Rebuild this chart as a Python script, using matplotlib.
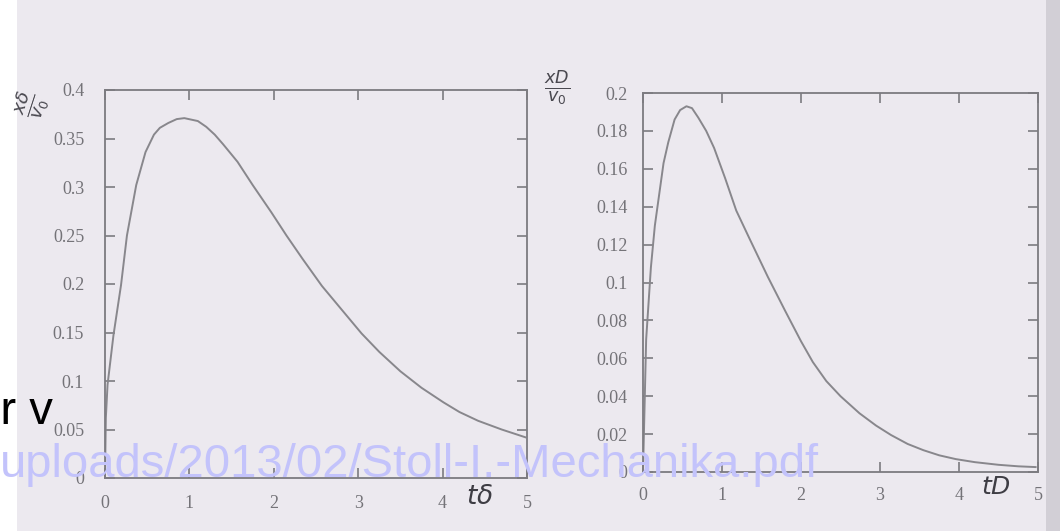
import matplotlib
matplotlib.use("Agg")
import matplotlib.pyplot as plt
from matplotlib.patches import Rectangle

# ---- data ----
left_t = [0, 0.01, 0.03, 0.1, 0.19, 0.26, 0.37, 0.48, 0.58, 0.65, 0.75, 0.85, 0.94,
          1.1, 1.2, 1.3, 1.4, 1.57, 1.75, 1.97, 2.15, 2.34, 2.57, 2.8, 3.04, 3.25,
          3.5, 3.75, 4.01, 4.2, 4.42, 4.7, 4.98]
left_x = [0, 0.062, 0.096, 0.147, 0.199, 0.25, 0.302, 0.336, 0.354, 0.361, 0.366, 0.370,
          0.371, 0.368, 0.362, 0.354, 0.344, 0.326, 0.302, 0.274, 0.25, 0.226, 0.198,
          0.174, 0.149, 0.13, 0.11, 0.093, 0.078, 0.068, 0.059, 0.05, 0.042]

right_t = [0, 0.04, 0.1, 0.15, 0.2, 0.26, 0.32, 0.40, 0.47, 0.55, 0.62, 0.7, 0.8,
           0.9, 1.04, 1.18, 1.35, 1.58, 1.8, 2.0, 2.15, 2.32, 2.5, 2.74, 2.95, 3.14,
           3.35, 3.55, 3.75, 3.96, 4.2, 4.5, 4.75, 4.97]
right_x = [0, 0.07, 0.108, 0.13, 0.145, 0.163, 0.174, 0.186, 0.191, 0.193, 0.192,
           0.187, 0.18, 0.171, 0.155, 0.138, 0.123, 0.103, 0.085, 0.069, 0.058,
           0.048, 0.040, 0.031, 0.0245, 0.0195, 0.0148, 0.0115, 0.0088, 0.0068,
           0.0052, 0.0038, 0.003, 0.0026]

x_ticks = [0, 1, 2, 3, 4, 5]
x_tick_labels = ["0", "1", "2", "3", "4", "5"]
left_yticks = [0, 0.05, 0.1, 0.15, 0.2, 0.25, 0.3, 0.35, 0.4]
left_ytick_labels = ["0", "0.05", "0.1", "0.15", "0.2", "0.25", "0.3", "0.35", "0.4"]
right_yticks = [0, 0.02, 0.04, 0.06, 0.08, 0.1, 0.12, 0.14, 0.16, 0.18, 0.2]
right_ytick_labels = ["0", "0.02", "0.04", "0.06", "0.08", "0.1", "0.12", "0.14",
                      "0.16", "0.18", "0.2"]

# ---- style ----
W, H = 1060, 531
paper = "#ece9ef"
ink = "#7c7b80"
text_ink = "#747378"

fig = plt.figure(figsize=(W / 100, H / 100), dpi=100, facecolor=paper)
fig.patches.append(Rectangle((0, 0), 17 / W, 1, transform=fig.transFigure,
                             facecolor="white", edgecolor="none", zorder=0))
fig.patches.append(Rectangle((1046 / W, 0), 14 / W, 1, transform=fig.transFigure,
                             facecolor="#d2cfd6", edgecolor="none", zorder=0))


def axrect(x0, x1, ytop, ybot):
    return [x0 / W, 1 - ybot / H, (x1 - x0) / W, (ybot - ytop) / H]


def style(ax, yticks, ylabels, ymax, ypad, xpad):
    ax.set_facecolor("none")
    ax.set_xlim(0, 5)
    ax.set_ylim(0, ymax)
    ax.set_xticks(x_ticks)
    ax.set_xticklabels(x_tick_labels)
    ax.set_yticks(yticks)
    ax.set_yticklabels(ylabels)
    for s in ax.spines.values():
        s.set_color(ink)
        s.set_linewidth(1.3)
    ax.tick_params(direction="in", length=7, width=1.2, color=ink,
                   top=True, right=True, labelcolor=text_ink, labelsize=13)
    ax.tick_params(axis="y", pad=ypad)
    ax.tick_params(axis="x", pad=xpad)
    for lab in ax.get_xticklabels() + ax.get_yticklabels():
        lab.set_family("Liberation Serif")


ax1 = fig.add_axes(axrect(105, 527, 90, 478))
ax1.plot(left_t, left_x, color="#88878c", lw=1.4)
style(ax1, left_yticks, left_ytick_labels, 0.4, 15, 12)

ax2 = fig.add_axes(axrect(643, 1038, 93, 472))
ax2.plot(right_t, right_x, color="#88878c", lw=1.4)
style(ax2, right_yticks, right_ytick_labels, 0.2, 11, 11)

# handwritten-like axis labels
fig.text(31 / W, 1 - 105 / H, r"$\frac{x\delta}{v_0}$", rotation=72, fontsize=19,
         color="#4a4950", ha="center", va="center")
fig.text(557 / W, 1 - 88 / H, r"$\frac{xD}{v_0}$", fontsize=18,
         color="#4a4950", ha="center", va="center")
fig.text(480 / W, 1 - 497 / H, r"$t\delta$", fontsize=19,
         color="#3e3d44", ha="center", va="center")
fig.text(996 / W, 1 - 487 / H, r"$tD$", fontsize=18,
         color="#3e3d44", ha="center", va="center")

# overlaid web page text
fig.text(-26 / W, 1 - 424 / H, "or v", fontsize=34, color="black",
         family="Liberation Sans", ha="left", va="baseline", zorder=5)
fig.text(0 / W, 1 - 477 / H, "uploads/2013/02/Stoll-I.-Mechanika.pdf", fontsize=34,
         color="#c3c3fb", family="Liberation Sans", ha="left", va="baseline", zorder=5)

fig.savefig("out.png", dpi=100, facecolor=fig.get_facecolor())
